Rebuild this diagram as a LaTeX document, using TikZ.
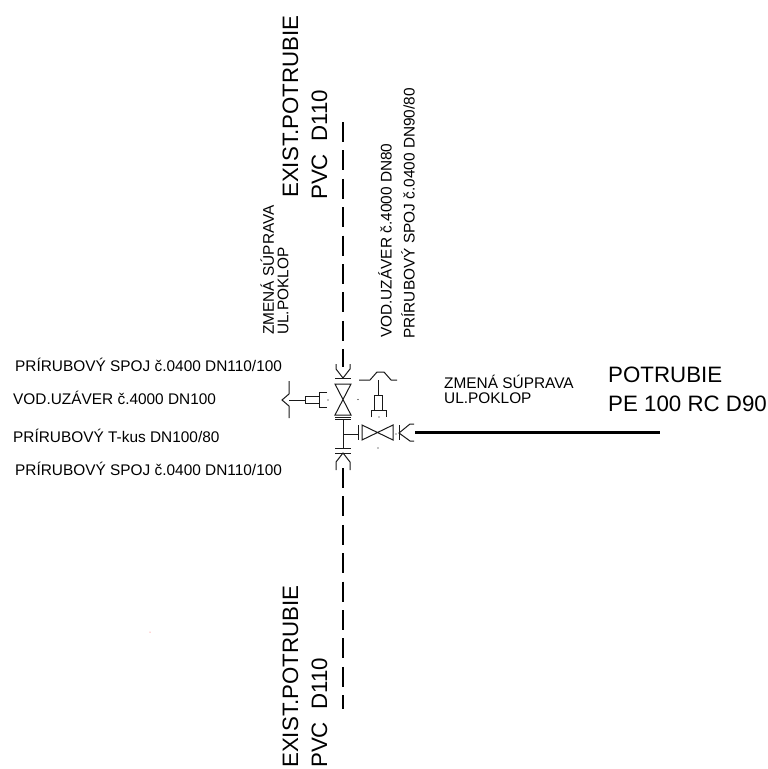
\documentclass[tikz,border=0pt]{standalone}
\usepackage{fontspec}
\setmainfont{Liberation Sans}
\usepackage{tikz}
\tikzset{
    small/.style={inner sep=0pt, anchor=west, align=left, font=\fontsize{15.4}{14.5}\selectfont},
    big/.style={inner sep=0pt, anchor=west, font=\fontsize{22.3}{25}\selectfont},
    up/.style={rotate=90},
    pipe/.style={line width=2.6pt, dash pattern=on 20pt off 8.4pt},
    fit/.style={line width=1pt, black!90},
}
\begin{document}
\begin{tikzpicture}[x=1pt,y=-1pt]
        \useasboundingbox (0,0) rectangle (768,769);

        \node[big, up] (exa) at (290.5,198) {EXIST.POTRUBIE};
        \node[big, up] (pvca) at (319.5,200) {PVC~~D110};
        \node[big, up] (exb) at (290.5,768) {EXIST.POTRUBIE};
        \node[big, up] (pvcb) at (319.5,768) {PVC~~D110};
        \node[small, up] (zma) at (274.5,335) {ZMENÁ SÚPRAVA\\UL.POKLOP};
        \node[small, up] (voda) at (385,338) {VOD.UZÁVER č.4000 DN80};
        \node[small, up] (pria) at (408,339) {PRÍRUBOVÝ SPOJ č.0400 DN90/80};
        \node[small] (pr1) at (15,365) {PRÍRUBOVÝ SPOJ č.0400 DN110/100};
        \node[small] (vod) at (13,398) {VOD.UZÁVER č.4000 DN100};
        \node[small] (tk) at (13,436) {PRÍRUBOVÝ T-kus DN100/80};
        \node[small] (pr2) at (15,469) {PRÍRUBOVÝ SPOJ č.0400 DN110/100};
        \node[small] (zmb) at (444,389.5) {ZMENÁ SÚPRAVA\\UL.POKLOP};
        \node[big] (pot) at (608,375) {POTRUBIE};
        \node[big] (pe) at (608,404) {PE 100 RC D90};

        % pipes
        \coordinate (topa) at (343,122);
        \coordinate (topb) at (343,367);
        \coordinate (bota) at (343,468);
        \coordinate (botb) at (343,709);
        \coordinate (pea) at (415,432.5);
        \coordinate (peb) at (660,432.5);
        \draw[pipe] (topa) -- (topb);
        \draw[pipe] (bota) -- (botb);
        \draw[line width=2.2pt] (pea) -- (peb);

        % top flange
        \draw[fit] (335,378) -- (351,378);
        \draw[fit] (336,364) -- (336,369) -- (343,378) -- (350,369) -- (350,364);
        % valve on the main
        \draw[fit] (335,384) -- (351,384) -- (335,415) -- (351,415) -- cycle;
        \draw[fit] (335,417.5) -- (351,417.5);
        \draw[fit] (335,419.5) -- (351,419.5);
        % T piece
        \draw[fit] (343,419.5) -- (343,448);
        \draw[fit] (343,434) -- (358,434);
        \draw[fit] (358,425) -- (358,440);
        % bottom flange
        \draw[fit] (335,448) -- (351,448);
        \draw[fit] (335,453) -- (351,453);
        \draw[fit] (336,470) -- (336,462) -- (343,453) -- (350,462) -- (350,470);
        % valve on the branch
        \draw[fit] (362,425) -- (362,440) -- (393,425) -- (393,440) -- cycle;
        \draw[fit] (399,425) -- (399,440);
        \draw[fit] (414,424) -- (410,424) -- (399,433) -- (410,441) -- (414,441);
        % left handle
        \draw[fit] (289,381) -- (289,394) -- (282,400) -- (289,406) -- (289,418);
        \draw[fit] (289,400) -- (305,400);
        \draw[fit] (305,396.5) rectangle (319,403.5);
        \draw[fit] (327,392) -- (319.5,392) -- (319.5,407) -- (327,407);
        % right handle
        \draw[fit] (359,380) -- (370,380) -- (377,372) -- (384,372) -- (391,380) -- (397,380);
        \draw[fit] (378,380) -- (378,395);
        \draw[fit] (374,395) rectangle (382,410);
        \draw[fit] (371,417) -- (371,410) -- (386,410) -- (386,417);

        \fill (328,400) circle (0.7);
        \fill (358,399.5) circle (0.7);
        \fill (379,417) circle (0.7);
        \fill (378,448) circle (0.7);
        \fill (396,434) circle (0.7);
        \fill[red!70] (150,632) circle (0.5);
\end{tikzpicture}
\end{document}
